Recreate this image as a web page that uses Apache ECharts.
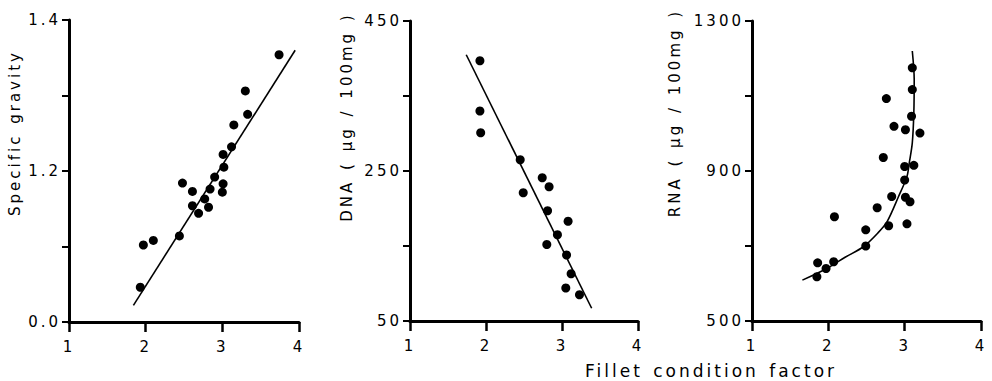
<!DOCTYPE html>
<html>
<head>
<meta charset="utf-8">
<script src="https://cdn.jsdelivr.net/npm/echarts@6/dist/echarts.min.js"></script>
<style>
  html, body { margin: 0; padding: 0; background: #fff; }
  #wrap { position: relative; width: 992px; height: 381px; }
  .layer { position: absolute; left: 0; top: 0; width: 992px; height: 381px; }
  /* the original lettering is widely spaced */
  .layer text { letter-spacing: 3px; word-spacing: 2px; }
</style>
</head>
<body>
<div id="wrap">
  <div class="layer" id="axes"></div>
  <div class="layer" id="fits"></div>
</div>
<script>
// condition factor (x) shared by all three panels
const xTicks = ['1', '2', '3', '4']

// panel 1: specific gravity
const sgX = [3.74, 3.30, 3.33, 3.15, 3.12, 3.01, 3.02, 2.90, 3.01, 3.00, 2.84, 2.48, 2.61, 2.77, 2.61, 2.82, 2.69, 2.44, 2.10, 1.97, 1.93]
const sgY = [1.354, 1.306, 1.275, 1.261, 1.232, 1.222, 1.205, 1.192, 1.183, 1.172, 1.176, 1.184, 1.173, 1.163, 1.154, 1.152, 1.144, 1.114, 1.108, 1.102, 1.046]
const sgFitX = [1.84, 3.95]
const sgFitY = [1.022, 1.360]
const sgTicks = ['0.0', '', '1.2', '', '1.4']

// panel 2: DNA
const dnaX = [1.92, 1.92, 1.93, 2.45, 2.49, 2.74, 2.83, 2.81, 3.08, 2.94, 2.80, 3.06, 3.12, 3.05, 3.23]
const dnaY = [397, 330, 301, 265, 221, 241, 229, 197, 183, 165, 152, 138, 113, 94, 85]
const dnaFitX = [1.74, 3.39]
const dnaFitY = [405, 67]
const dnaTicks = ['50', '', '250', '', '450']

// panel 3: RNA
const rnaX = [3.10, 3.10, 2.76, 3.09, 2.86, 3.01, 3.20, 2.72, 3.00, 3.12, 3.00, 2.83, 3.01, 3.07, 2.64, 2.08, 3.03, 2.79, 2.49, 2.49, 1.86, 2.07, 1.97, 1.85]
const rnaY = [1175, 1117, 1093, 1046, 1019, 1010, 1001, 936, 912, 915, 876, 832, 830, 818, 802, 778, 759, 754, 743, 700, 655, 658, 640, 618]
const rnaFitX = [1.66, 1.98, 2.22, 2.46, 2.65, 2.77, 2.92, 3.03, 3.06, 3.10, 3.12, 3.125, 3.10]
const rnaFitY = [609, 640, 670, 698, 735, 765, 832, 885, 921, 975, 1055, 1144, 1220]
const rnaTicks = ['500', '', '900', '', '1300']

const FONT = 'DejaVu Sans'
const INK = '#000'

const grids = [
  { left: 69, top: 20, width: 230, height: 302 },
  { left: 410, top: 21, width: 228, height: 300 },
  { left: 752, top: 21, width: 229, height: 300 },
]
const yRanges = [[1.0, 1.4, 0.1], [50, 450, 100], [500, 1300, 200]]
const yLabels = [sgTicks, dnaTicks, rnaTicks]

const pairs = (xs, ys) => xs.map((x, i) => [x, ys[i]])

function xAxisFor(gridIndex, visible) {
  return {
    type: 'value',
    gridIndex,
    show: visible,
    min: 1,
    max: 4,
    interval: 1,
    splitLine: { show: false },
    axisLine: { show: true, onZero: false, lineStyle: { color: INK, width: 3 } },
    axisTick: { show: true, length: 10, lineStyle: { color: INK, width: 2.5 } },
    axisLabel: {
      color: INK,
      fontFamily: FONT,
      fontSize: 15,
      margin: 17,
      formatter: (v, i) => xTicks[i] ?? '',
    },
  }
}

function yAxisFor(gridIndex, visible) {
  const [min, max, interval] = yRanges[gridIndex]
  const labels = yLabels[gridIndex]
  return {
    type: 'value',
    gridIndex,
    show: visible,
    min,
    max,
    interval,
    splitLine: { show: false },
    axisLine: { show: true, onZero: false, lineStyle: { color: INK, width: 3 } },
    axisTick: { show: true, length: 7, lineStyle: { color: INK, width: 2 } },
    axisLabel: {
      color: INK,
      fontFamily: FONT,
      fontSize: 15,
      margin: 8,
      formatter: (v, i) => labels[i] ?? '',
    },
  }
}

function dots(idx, xs, ys) {
  return {
    type: 'scatter',
    xAxisIndex: idx,
    yAxisIndex: idx,
    data: pairs(xs, ys),
    symbolSize: 9,
    itemStyle: { color: INK, opacity: 1 },
  }
}

function fit(idx, xs, ys, smooth) {
  return {
    type: 'line',
    xAxisIndex: idx,
    yAxisIndex: idx,
    data: pairs(xs, ys),
    showSymbol: false,
    smooth,
    lineStyle: { color: INK, width: 1.6 },
  }
}

function label(text, x, y, rotated, size) {
  return {
    type: 'text',
    x,
    y,
    rotation: rotated ? Math.PI / 2 : 0,
    style: {
      text,
      fill: INK,
      font: `${size}px "${FONT}"`,
      align: 'center',
      verticalAlign: 'middle',
    },
  }
}

// bottom layer: axes, tick labels and the measured points
const axesChart = echarts.init(document.getElementById('axes'), null, { renderer: 'svg' })
axesChart.setOption({
  animation: false,
  grid: grids,
  xAxis: [0, 1, 2].map((i) => xAxisFor(i, true)),
  yAxis: [0, 1, 2].map((i) => yAxisFor(i, true)),
  series: [dots(0, sgX, sgY), dots(1, dnaX, dnaY), dots(2, rnaX, rnaY)],
})

// top layer: fitted lines and axis titles on the same scales
const fitChart = echarts.init(document.getElementById('fits'), null, { renderer: 'svg' })
fitChart.setOption({
  animation: false,
  backgroundColor: 'transparent',
  grid: grids,
  xAxis: [0, 1, 2].map((i) => xAxisFor(i, false)),
  yAxis: [0, 1, 2].map((i) => yAxisFor(i, false)),
  graphic: [
    label('Specific gravity', 15, 133, true, 15),
    label('DNA ( μg / 100mg )', 347, 117, true, 15),
    label('RNA ( μg / 100mg )', 675, 113, true, 15),
    label('Fillet condition factor', 711, 371, false, 17),
  ],
  series: [
    fit(0, sgFitX, sgFitY, false),
    fit(1, dnaFitX, dnaFitY, false),
    fit(2, rnaFitX, rnaFitY, 0.3),
  ],
})
</script>
</body>
</html>
